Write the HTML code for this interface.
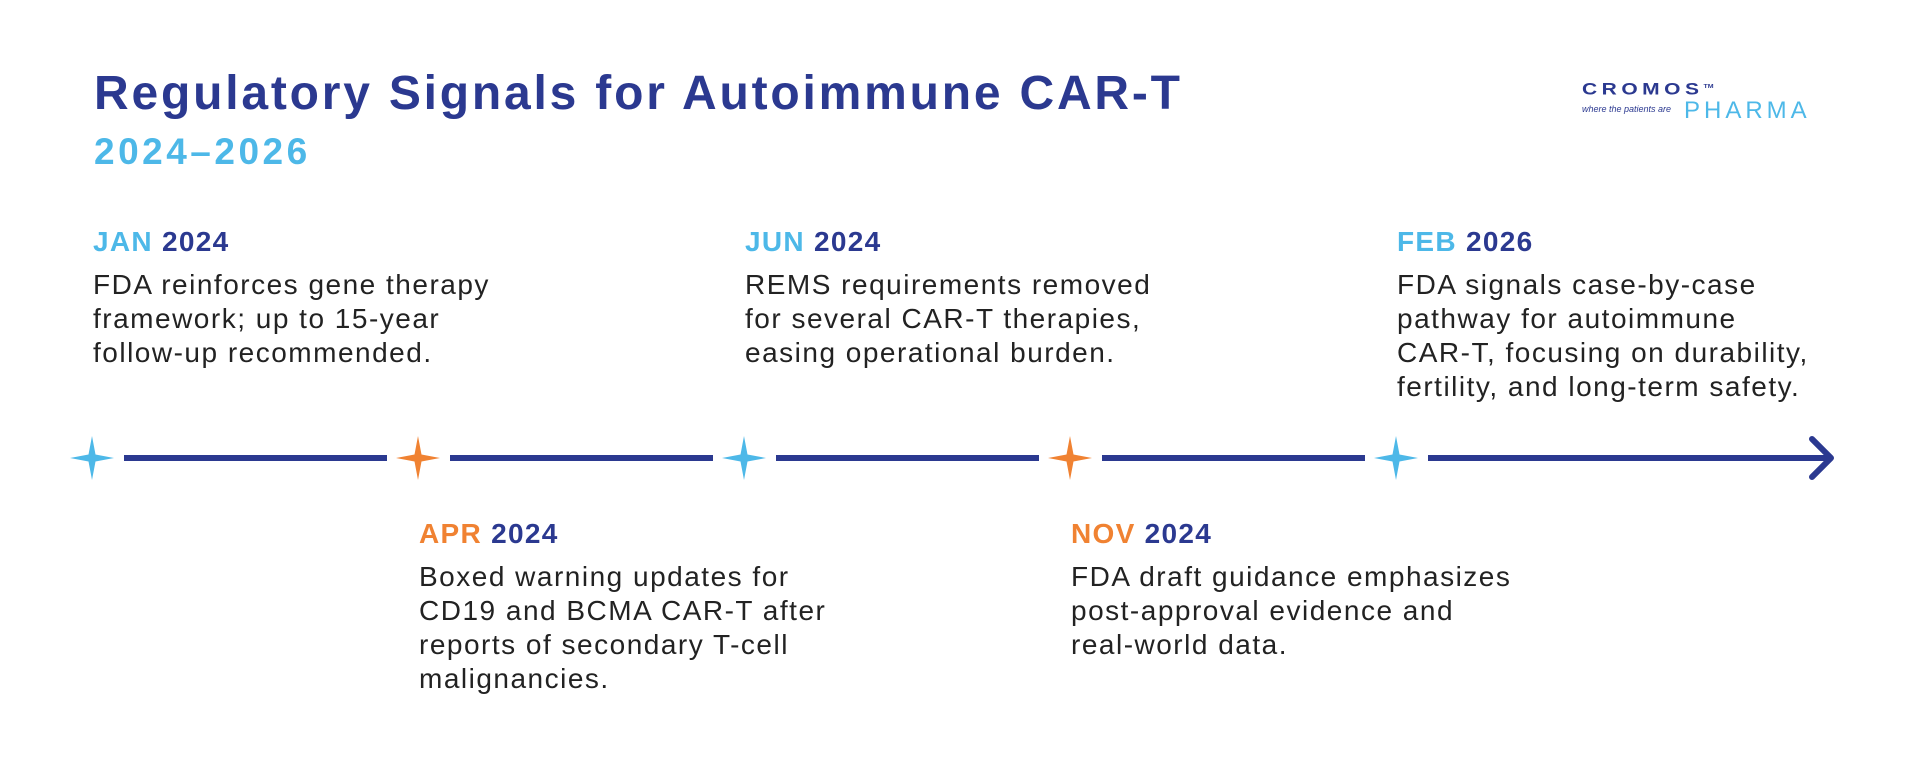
<!DOCTYPE html>
<html><head><meta charset="utf-8"><style>
body{margin:0;width:1921px;height:758px;background:#fff;position:relative;overflow:hidden;font-family:"Liberation Sans",sans-serif}
.a{position:absolute;white-space:nowrap}
.t{left:94px;top:70px;font-size:48px;font-weight:bold;color:#2b3990;line-height:1;letter-spacing:2.8px}
.s{left:94px;top:133px;font-size:37px;font-weight:bold;color:#4db8e8;line-height:1;letter-spacing:3.5px}
.d{font-size:28px;font-weight:bold;line-height:30px;color:#2b3990;letter-spacing:1.3px}
.b{font-size:28px;line-height:34px;color:#222;letter-spacing:1.5px}
.lb{color:#4db8e8}.or{color:#f08232}
</style></head><body>
<div class="a t">Regulatory Signals for Autoimmune CAR-T</div>
<div class="a s">2024–2026</div>
<div class="a" style="left:1582px;top:80px;font-size:21px;color:#2b3990;letter-spacing:4.5px;font-weight:bold;transform:scaleY(0.8);transform-origin:top left">CROMOS<sup style="font-size:7px;letter-spacing:0">TM</sup></div>
<div class="a" style="left:1582px;top:104px;font-size:9px;color:#2b3990;font-style:italic">where the patients are</div>
<div class="a" style="left:1684px;top:97px;font-size:24px;color:#4db8e8;letter-spacing:4px">PHARMA</div>

<div class="a d" style="left:93px;top:227px"><span class="lb">JAN</span> 2024</div>
<div class="a b" style="left:93px;top:268px">FDA reinforces gene therapy<br>framework; up to 15-year<br>follow-up recommended.</div>
<div class="a d" style="left:745px;top:227px"><span class="lb">JUN</span> 2024</div>
<div class="a b" style="left:745px;top:268px">REMS requirements removed<br>for several CAR-T therapies,<br>easing operational burden.</div>
<div class="a d" style="left:1397px;top:227px"><span class="lb">FEB</span> 2026</div>
<div class="a b" style="left:1397px;top:268px">FDA signals case-by-case<br>pathway for autoimmune<br>CAR-T, focusing on durability,<br>fertility, and long-term safety.</div>
<div class="a d" style="left:419px;top:519px"><span class="or">APR</span> 2024</div>
<div class="a b" style="left:419px;top:560px">Boxed warning updates for<br>CD19 and BCMA CAR-T after<br>reports of secondary T-cell<br>malignancies.</div>
<div class="a d" style="left:1071px;top:519px"><span class="or">NOV</span> 2024</div>
<div class="a b" style="left:1071px;top:560px">FDA draft guidance emphasizes<br>post-approval evidence and<br>real-world data.</div>

<svg class="a" style="left:0;top:0" width="1921" height="758">
<defs><path id="st" d="M0,-22 L3.5,-3.5 L22,0 L3.5,3.5 L0,22 L-3.5,3.5 L-22,0 L-3.5,-3.5Z"/></defs>
<g fill="#2b3990">
<rect x="124" y="455" width="263" height="6"/>
<rect x="450" y="455" width="263" height="6"/>
<rect x="776" y="455" width="263" height="6"/>
<rect x="1102" y="455" width="263" height="6"/>
<rect x="1428" y="455" width="402" height="6"/>
</g>
<polyline points="1812,439 1831,458 1812,477" fill="none" stroke="#2b3990" stroke-width="6" stroke-linecap="round" stroke-linejoin="round"/>
<use href="#st" x="92" y="458" fill="#4db8e8"/>
<use href="#st" x="418" y="458" fill="#f08232"/>
<use href="#st" x="744" y="458" fill="#4db8e8"/>
<use href="#st" x="1070" y="458" fill="#f08232"/>
<use href="#st" x="1396" y="458" fill="#4db8e8"/>
</svg>
</body></html>
